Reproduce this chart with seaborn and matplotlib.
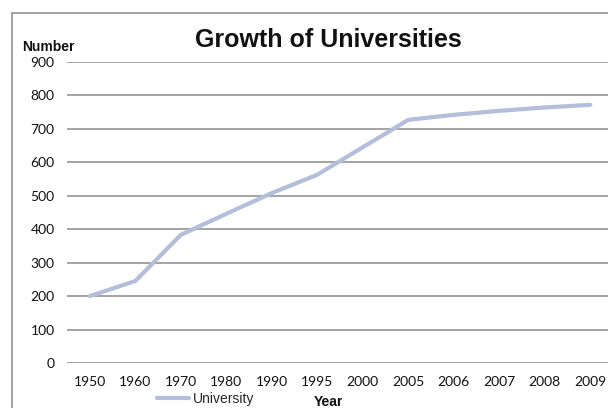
import matplotlib
matplotlib.use("Agg")
import matplotlib.pyplot as plt
from matplotlib.lines import Line2D
import seaborn as sns
import pandas as pd

# Number of universities per year
years = ["1950", "1960", "1970", "1980", "1990", "1995",
         "2000", "2005", "2006", "2007", "2008", "2009"]
universities = [200, 245, 383, 446, 508, 563, 645, 727, 742, 754, 764, 772]
y_ticks = [0, 100, 200, 300, 400, 500, 600, 700, 800, 900]

df = pd.DataFrame({"Year": years, "University": universities})

sns.set_theme(style="white")
plt.rcParams["font.family"] = ["Liberation Sans", "DejaVu Sans"]

W, H = 608, 408
fig = plt.figure(figsize=(W / 100, H / 100), dpi=100)
ax = fig.add_axes([67 / W, (H - 363) / H, (613 - 67) / W, (363 - 62) / H])

line_color = "#b3bedb"
sns.lineplot(data=df, x="Year", y="University", ax=ax, color=line_color,
             linewidth=3.0, sort=False, label="University", legend=False)

ax.set_xlim(-0.5, len(years) - 0.5)
ax.set_ylim(0, 900)
ax.set_yticks(y_ticks)
for v in y_ticks:
    ax.axhline(v, color="#9c9c9c", linewidth=1.3, zorder=0)
ax.grid(False)
for s in ax.spines.values():
    s.set_visible(False)
ax.set_xlabel("")
ax.set_ylabel("")
ax.tick_params(axis="both", length=0, labelsize=10, colors="#111111")
ax.tick_params(axis="y", pad=9)
ax.tick_params(axis="x", pad=9)
for lab in ax.get_xticklabels() + ax.get_yticklabels():
    lab.set_family(["Lato", "DejaVu Sans"])

# outer chart frame (top and left edges)
frame_color = "#9a9a9a"
fig.add_artist(Line2D([12 / W, 1.0], [1 - 12.7 / H, 1 - 12.7 / H],
                      color=frame_color, linewidth=1.3, transform=fig.transFigure))
fig.add_artist(Line2D([12 / W, 12 / W], [1 - 12.7 / H, 0.0],
                      color=frame_color, linewidth=1.3, transform=fig.transFigure))

fig.text(328 / W, 1 - 40 / H, "Growth of Universities", ha="center", va="center",
         fontsize=18, fontweight="bold", color="#111111")
fig.text(22 / W, 1 - 47 / H, "Number", ha="left", va="center",
         fontsize=10, fontweight="bold", color="#111111")
fig.text(328 / W, 1 - 402 / H, "Year", ha="center", va="center",
         fontsize=10, fontweight="bold", color="#111111")

handle = Line2D([], [], color=line_color, linewidth=3.0)
fig.legend([handle], ["University"], loc="center left",
           bbox_to_anchor=(157 / W, 1 - 399 / H), frameon=False,
           fontsize=10, handlelength=2.3, handletextpad=0.3,
           borderpad=0, borderaxespad=0)

fig.savefig("out.png", dpi=100)
